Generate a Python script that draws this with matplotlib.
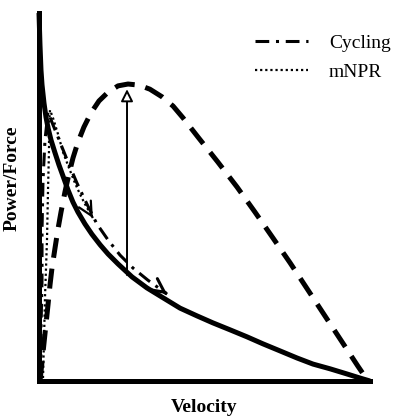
import matplotlib
matplotlib.use("Agg")
import matplotlib.pyplot as plt

plt.rcParams['font.family'] = ['Liberation Serif', 'DejaVu Serif']

# values, both axes on a 0-100 scale
# force-velocity curve (solid)
force_x = [0.15, 0.45, 0.75, 1.06, 1.66, 2.26, 2.87, 3.77, 4.98, 6.18, 7.39, 8.9,
           10.4, 11.9, 14.0, 16.1, 18.6, 21.0, 24.0, 28.2, 32.7, 37.6, 42.7, 47.8,
           52.6, 57.8, 62.9, 67.7, 72.8, 78.0, 82.8, 88.0, 93.1, 97.0, 100.0]
force_y = [100.0, 91.3, 84.5, 80.5, 75.5, 71.7, 68.8, 65.5, 62.0, 58.7, 55.7, 51.9,
           48.6, 45.9, 42.7, 39.9, 37.0, 34.5, 31.8, 28.3, 25.3, 22.6, 19.8, 17.7,
           15.8, 13.9, 12.0, 10.1, 8.2, 6.25, 4.6, 3.3, 1.9, 0.8, 0.0]

# power-velocity curve (dashed)
power_x = [0.45, 1.06, 1.66, 2.26, 2.87, 3.47, 4.07, 4.98, 5.88, 6.79, 7.99, 9.2,
           10.4, 11.9, 13.7, 15.8, 18.25, 21.0, 24.0, 27.0, 30.3, 33.6, 37.3, 40.6,
           43.6, 48.1, 54.1, 59.9, 65.3, 70.7, 75.9, 81.3, 86.4, 91.8, 96.3, 99.4]
power_y = [0.0, 5.16, 10.3, 15.5, 20.7, 26.1, 30.7, 36.1, 41.3, 45.9, 51.4, 56.3,
           60.6, 64.9, 69.0, 72.8, 76.1, 78.5, 80.2, 80.7, 80.4, 79.3, 77.2, 74.7,
           71.5, 66.3, 59.5, 52.7, 45.9, 38.9, 32.1, 24.7, 17.7, 10.3, 4.1, 0.0]

# cycling (dash-dot)
cyc_x = [0.75, 0.75, 1.06, 1.06, 1.36, 1.96, 2.87, 4.37, 6.49, 8.9, 11.6, 14.6,
         17.6, 21.0, 24.6, 28.5, 33.0, 38.8]
cyc_y = [0.8, 13.9, 27.4, 41.0, 54.6, 65.5, 73.1, 69.6, 64.9, 59.5, 53.8, 48.1,
         42.7, 38.3, 34.2, 30.7, 27.4, 23.6]

# mNPR (dotted)
npr_x = [1.36, 1.66, 1.96, 2.56, 2.87, 3.17, 3.17, 3.47, 4.37, 5.88, 7.39, 9.2,
         11.0, 12.5, 14.0, 16.4]
npr_y = [0.8, 11.1, 22.8, 38.3, 51.9, 62.8, 69.6, 73.6, 71.5, 67.1, 62.2, 57.9,
         53.8, 50.8, 48.1, 44.3]

# vertical arrow from force curve up to peak power
gap_x = [26.7, 26.7]
gap_y = [28.8, 79.3]

fig = plt.figure(figsize=(3.93, 4.16), dpi=100)
ax = fig.add_axes([38.5 / 393, 35 / 416, 331.5 / 393, 368 / 416])

ax.plot(force_x, force_y, color='black', lw=3.6, solid_capstyle='butt',
        solid_joinstyle='round', clip_on=False)
ax.plot(power_x, power_y, color='black', lw=3.6, linestyle=(0, (4, 2.2)),
        dash_capstyle='butt', clip_on=False)
cyc_line, = ax.plot(cyc_x, cyc_y, color='black', lw=2.2, linestyle=(0, (4.5, 2.2, 1, 2.2)),
                    label='Cycling', clip_on=False)
npr_line, = ax.plot(npr_x, npr_y, color='black', lw=1.6, linestyle=(0, (1, 1.3)),
                    label='mNPR', clip_on=False)

# open arrow heads at the end of the two protocol lines
for xs, ys, lw in [(cyc_x, cyc_y, 2.2), (npr_x, npr_y, 1.6)]:
    tail = (xs[-1] + 0.1 * (xs[-2] - xs[-1]), ys[-1] + 0.1 * (ys[-2] - ys[-1]))
    ax.annotate('', xy=(xs[-1], ys[-1]), xytext=tail,
                arrowprops=dict(arrowstyle='->,head_length=0.7,head_width=0.35',
                                color='black', lw=lw, shrinkA=0, shrinkB=0,
                                mutation_scale=14))

ax.annotate('', xy=(gap_x[1], gap_y[1]), xytext=(gap_x[0], gap_y[0]),
            arrowprops=dict(arrowstyle='-|>,head_length=0.6,head_width=0.3',
                            fc='white', ec='black', lw=1.4, shrinkA=0, shrinkB=0,
                            mutation_scale=12))

ax.set_xlim(0, 100)
ax.set_ylim(0, 100)
ax.set_xticks([])
ax.set_yticks([])
for side in ['top', 'right']:
    ax.spines[side].set_visible(False)
for side in ['left', 'bottom']:
    ax.spines[side].set_linewidth(3.6)

ax.set_xlabel('Velocity', fontsize=14, fontweight='bold')
ax.xaxis.set_label_coords(0.5, -0.05)
ax.set_ylabel('Power/Force', fontsize=14, fontweight='bold')
ax.yaxis.set_label_coords(-0.053, 0.552)

fig.legend(handles=[cyc_line, npr_line], loc='upper left',
           bbox_to_anchor=(255 / 393, 1 - 34 / 416), frameon=False, fontsize=14,
           handlelength=2.7, handletextpad=1.1, labelspacing=0.6,
           borderpad=0, borderaxespad=0)

fig.savefig('out.png', dpi=100)
